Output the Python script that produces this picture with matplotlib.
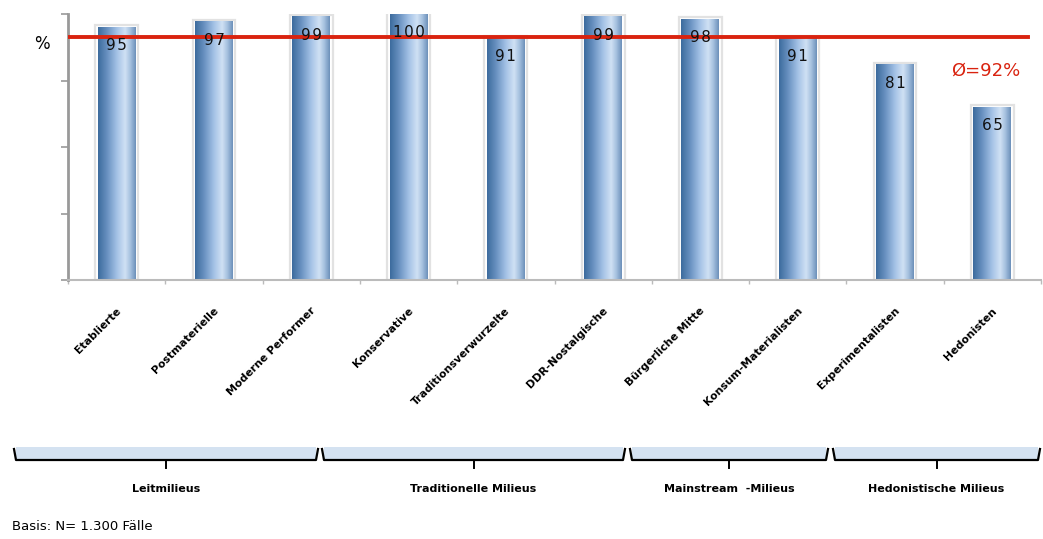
import numpy as np
import matplotlib.pyplot as plt
from matplotlib.colors import LinearSegmentedColormap
from matplotlib.patches import Rectangle

milieus = ["Etablierte", "Postmaterielle", "Moderne Performer", "Konservative",
           "Traditionsverwurzelte", "DDR-Nostalgische", "Bürgerliche Mitte",
           "Konsum-Materialisten", "Experimentalisten", "Hedonisten"]
values = [95, 97, 99, 100, 91, 99, 98, 91, 81, 65]
average = 92
groups = ["Leitmilieus", "Traditionelle Milieus", "Mainstream  -Milieus", "Hedonistische Milieus"]
# bracket spans in pixels (layout)
group_px = [(14, 318), (322, 625), (630, 828), (833, 1040)]

W, H = 1043, 539
fig = plt.figure(figsize=(W / 100, H / 100), dpi=100)
ax = fig.add_axes([68 / W, (H - 280) / H, (1041 - 68) / W, 266 / H])

cmap = LinearSegmentedColormap.from_list(
    "bar", [(0, "#3d6c9e"), (0.25, "#6b93c2"), (0.5, "#a4c2e6"),
            (0.72, "#d0e1f4"), (0.85, "#a9c3e1"), (1, "#6e92bb")])
grad = np.linspace(0, 1, 64).reshape(1, -1)

x = np.arange(len(values))
bw = 0.39
for xi, v in zip(x, values):
    ax.add_patch(Rectangle((xi - bw / 2 - 0.025, 0), bw + 0.05, v + 0.7,
                           facecolor="none", edgecolor="#e2e2e2", lw=1.6, zorder=1))
    ax.imshow(grad, cmap=cmap, aspect="auto", extent=(xi - bw / 2, xi + bw / 2, 0, v),
              zorder=2, interpolation="bilinear")
    ax.text(xi, v - 7, "\u200a".join(str(v)), ha="center", va="center", fontsize=11,
            color="#111111", zorder=4)

ax.axhline(average - 0.5, xmin=0, xmax=(1028 - 68) / (1041 - 68), color="#d9230f",
           lw=2.8, zorder=3)
ax.set_xlim(-0.5, len(values) - 0.5)
ax.set_ylim(0, 100)

ax.set_yticks([0, 25, 50, 75, 100])
ax.set_yticklabels([])
ax.set_xticks(np.arange(-0.5, len(values), 1))
ax.set_xticklabels([])
ax.tick_params(axis="y", colors="#999999", length=5, width=1.2)
ax.tick_params(axis="x", colors="#bbbbbb", length=3, width=1)
for s in ["top", "right"]:
    ax.spines[s].set_visible(False)
ax.spines["left"].set_color("#999999")
ax.spines["left"].set_linewidth(2)
ax.spines["bottom"].set_color("#bbbbbb")
ax.spines["bottom"].set_linewidth(1.5)

for xi, name in zip(x, milieus):
    ax.annotate(name, xy=(xi, 0), xycoords=("data", "axes fraction"),
                xytext=(2, -21), textcoords="offset points", rotation=45,
                ha="right", va="center", rotation_mode="anchor",
                fontsize=7.8, fontweight="bold", family="DejaVu Sans")

fig.text(42 / W, 1 - 44 / H, "%", ha="center", va="center", fontsize=12)
fig.text(986 / W, 1 - 71 / H, "Ø=92%", ha="center", va="center", fontsize=13,
         color="#d9230f")

# bracket overlay
ov = fig.add_axes([0, 0, 1, 1])
ov.set_xlim(0, W)
ov.set_ylim(H, 0)
ov.axis("off")
for (x0, x1), name in zip(group_px, groups):
    ov.add_patch(Rectangle((x0 + 2, 447), x1 - x0 - 4, 13, facecolor="#d4e2f1",
                           edgecolor="none"))
    ov.plot([x0, x0 + 2, x1 - 2, x1], [449, 460, 460, 449], color="black", lw=1.6)
    xm = (x0 + x1) / 2
    ov.plot([xm, xm], [460, 468], color="black", lw=1.4)
    ov.text(xm, 489, name, ha="center", va="center", fontsize=8, fontweight="bold",
            family="DejaVu Sans")

fig.text(12 / W, 1 - 527 / H, "Basis: N= 1.300 Fälle", ha="left", va="center", fontsize=9.5)

fig.savefig("out.png", dpi=100)
